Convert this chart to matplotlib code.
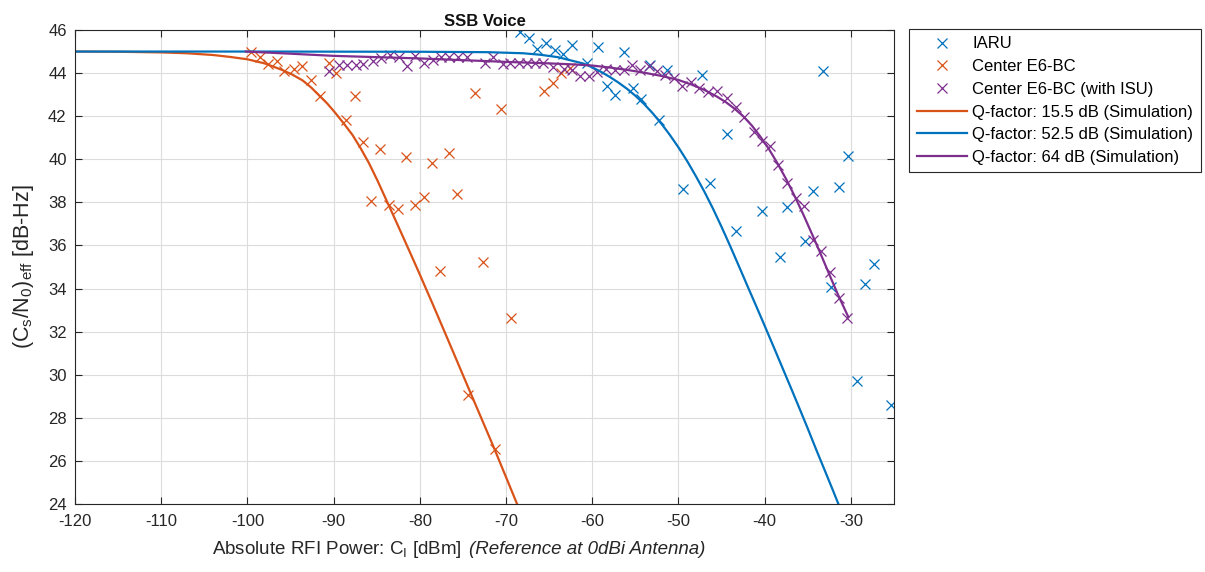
import matplotlib
matplotlib.use("Agg")
import matplotlib.pyplot as plt
from matplotlib.offsetbox import TextArea, HPacker, AnchoredOffsetbox

plt.rcParams['font.family'] = ['Liberation Sans', 'DejaVu Sans']
plt.rcParams['mathtext.fontset'] = 'custom'
plt.rcParams['mathtext.rm'] = 'Liberation Sans'
plt.rcParams['mathtext.it'] = 'Liberation Sans:italic'
plt.rcParams['mathtext.bf'] = 'Liberation Sans:bold'

# ---- measured data ----
iaru_x = [-68.4, -67.35, -66.4, -65.35, -64.3, -63.37, -62.36, -60.66, -59.36, -58.29,
          -57.38, -56.36, -55.33, -54.38, -53.3, -52.29, -51.31, -49.5, -47.3, -46.36,
          -44.34, -43.37, -40.35, -38.28, -37.36, -35.29, -34.34, -33.29, -32.33, -31.36,
          -30.31, -29.3, -28.33, -27.29, -25.35]
iaru_y = [45.89, 45.63, 45.13, 45.4, 45.05, 44.88, 45.3, 44.49, 45.19, 43.38,
          42.98, 44.97, 43.33, 42.79, 44.36, 41.84, 44.14, 38.62, 43.92, 38.91,
          41.16, 36.69, 37.62, 35.47, 37.8, 36.22, 38.54, 44.1, 34.09, 38.7,
          40.15, 29.71, 34.21, 35.14, 28.6]

e6_x = [-99.6, -98.5, -97.56, -96.6, -95.7, -94.65, -93.64, -92.64, -91.63, -90.55,
        -89.69, -88.6, -87.56, -86.59, -85.62, -84.57, -83.6, -82.52, -81.55, -80.58,
        -79.53, -78.57, -77.67, -76.59, -75.66, -74.43, -73.6, -72.64, -71.34, -70.58,
        -69.42, -65.58, -64.57, -63.64, -62.64]
e6_y = [44.97, 44.73, 44.42, 44.58, 44.11, 44.19, 44.34, 43.68, 42.94, 44.48,
        44.02, 41.82, 42.94, 40.82, 38.07, 40.48, 37.88, 37.69, 40.12, 37.88,
        38.26, 39.84, 34.83, 40.28, 38.38, 29.05, 43.06, 35.22, 26.54, 42.32,
        32.65, 43.18, 43.55, 43.99, 44.22]

isu_x = [-90.5, -89.4, -88.45, -87.45, -86.55, -85.47, -84.45, -83.49, -82.47, -81.47,
         -80.55, -79.5, -78.5, -77.55, -76.57, -75.6, -74.57, -72.48, -71.48, -70.4,
         -69.5, -68.53, -67.55, -66.6, -65.66, -64.6, -63.33, -62.36, -61.44, -60.43,
         -59.45, -58.43, -57.33, -56.36, -55.38, -54.42, -53.45, -52.48, -51.51, -50.55,
         -49.57, -48.56, -47.58, -46.57, -45.5, -44.38, -43.37, -42.4, -41.28, -40.35,
         -39.38, -38.41, -37.44, -36.4, -35.43, -34.45, -33.49, -32.4, -31.36, -30.47]
isu_y = [44.12, 44.36, 44.36, 44.36, 44.4, 44.58, 44.69, 44.84, 44.73, 44.34,
         44.81, 44.48, 44.6, 44.77, 44.77, 44.77, 44.77, 44.46, 44.77, 44.4,
         44.46, 44.46, 44.46, 44.46, 44.46, 44.3, 44.18, 44.14, 43.87, 43.87,
         44.07, 44.18, 44.14, 44.14, 44.36, 44.14, 44.32, 44.1, 43.9, 43.78,
         43.38, 43.58, 43.33, 43.1, 43.17, 42.85, 42.42, 41.96, 41.25, 40.86,
         40.62, 39.74, 38.89, 38.19, 37.83, 36.24, 35.75, 34.77, 33.55, 32.62]

# ---- simulation curves ----
q155_x = [-120, -115, -110, -107, -104, -102, -100, -98, -96, -94.8, -93.6, -92.6,
          -91.7, -90.7, -89.76, -88.8, -87.8, -86.85, -85.9, -84.9, -83.97, -83.0,
          -82.03, -81.0, -80.1, -78.5, -77.0, -74.4, -71.5, -68.72]
q155_y = [45.0, 44.99, 44.96, 44.92, 44.84, 44.75, 44.64, 44.45, 44.15, 43.93, 43.66, 43.33,
          42.97, 42.57, 42.13, 41.65, 41.12, 40.5, 39.82, 39.0, 38.18, 37.33,
          36.47, 35.55, 34.74, 33.27, 31.87, 29.42, 26.7, 24.0]

q525_x = [-120, -100, -80, -72, -68, -66, -64, -62, -61, -60, -59, -58, -57, -56,
          -55, -54, -53, -52, -51, -50, -49, -48, -47, -46, -45, -44, -43, -42,
          -41, -40, -39, -38, -37, -36, -35, -34, -33, -32, -31.45]
q525_y = [45.0, 45.0, 44.99, 44.97, 44.92, 44.85, 44.74, 44.54, 44.44, 44.27, 44.06, 43.83,
          43.57, 43.28, 42.95, 42.57, 42.14, 41.66, 41.13, 40.55, 39.92, 39.23, 38.5,
          37.71, 36.86, 35.97, 35.05, 34.12, 33.2, 32.27, 31.33, 30.38, 29.43, 28.47,
          27.5, 26.5, 25.53, 24.55, 24.0]

q64_x = [-100.2, -95, -90, -85, -80, -75, -70, -65, -62, -60, -58, -56, -54, -52,
         -50, -48.5, -47, -45.5, -44.5, -43.5, -42.5, -41.5, -40.5, -39.5, -38.5,
         -37.5, -36.5, -35.5, -34.5, -33.5, -32.5, -31.5, -30.3]
q64_y = [45.0, 44.9, 44.8, 44.74, 44.68, 44.6, 44.52, 44.45, 44.4, 44.35, 44.26, 44.15,
         44.02, 43.87, 43.68, 43.47, 43.22, 42.9, 42.65, 42.35, 42.0, 41.57, 41.05,
         40.47, 39.8, 39.07, 38.27, 37.42, 36.52, 35.6, 34.65, 33.72, 32.68]

xticks = list(range(-120, -29, 10))
yticks = list(range(24, 47, 2))

C_BLUE = '#0072BD'
C_ORANGE = '#D95319'
C_PURPLE = '#7E2F8E'
C_TXT = '#262626'

fig = plt.figure(figsize=(12.05, 5.72), dpi=100)
ax = fig.add_axes([75 / 1205, 1 - 504 / 572, (894 - 75) / 1205, (504 - 30) / 572])

mk = dict(linestyle='none', marker='x', markersize=7, markeredgewidth=0.9)
ax.plot(iaru_x, iaru_y, color=C_BLUE, label='IARU', **mk)
ax.plot(e6_x, e6_y, color=C_ORANGE, label='Center E6-BC', **mk)
ax.plot(isu_x, isu_y, color=C_PURPLE, label='Center E6-BC (with ISU)', **mk)
ax.plot(q155_x, q155_y, color=C_ORANGE, lw=1.6, label='Q-factor: 15.5 dB (Simulation)')
ax.plot(q525_x, q525_y, color=C_BLUE, lw=1.6, label='Q-factor: 52.5 dB (Simulation)')
ax.plot(q64_x, q64_y, color=C_PURPLE, lw=1.6, label='Q-factor: 64 dB (Simulation)')

ax.set_xlim(-120, -25)
ax.set_ylim(24, 46)
ax.set_xticks(xticks)
ax.set_yticks(yticks)
ax.set_xticklabels([str(t) for t in xticks])
ax.grid(True, color='#dcdcdc', linewidth=0.8)
ax.set_axisbelow(True)
ax.tick_params(direction='in', top=True, right=True, length=5, width=0.8,
               labelsize=12, colors=C_TXT)
ax.tick_params(axis='x', pad=7)
ax.tick_params(axis='y', pad=6)
for s in ax.spines.values():
    s.set_color(C_TXT)
    s.set_linewidth(0.8)

ax.set_title('SSB Voice', fontsize=12, fontweight='bold', pad=3, color='#111111')

# x label: regular part + italic part
t1 = TextArea(r'Absolute RFI Power: $\mathregular{C_I}$ [dBm]',
              textprops=dict(fontsize=13.5, color=C_TXT))
t2 = TextArea('(Reference at 0dBi Antenna)',
              textprops=dict(fontsize=13.5, color=C_TXT, style='italic'))
xl_box = HPacker(children=[t1, t2], align='baseline', pad=0, sep=5)
xl = AnchoredOffsetbox(loc='center', child=xl_box, pad=0, borderpad=0, frameon=False,
                       bbox_to_anchor=((459 - 75) / 819, (504 - 549) / 474),
                       bbox_transform=ax.transAxes)
ax.add_artist(xl)

ax.set_ylabel(r'$\mathregular{(C_s/N_0)_{eff}}$ [dB-Hz]', fontsize=15.5, color=C_TXT)
ax.yaxis.set_label_coords((36 - 75) / 819, 0.5)

leg = ax.legend(loc='upper left', bbox_to_anchor=((909 - 75) / 819, (504 - 29) / 474),
                fontsize=12, frameon=True, fancybox=False, edgecolor=C_TXT, framealpha=1,
                handlelength=3.0, handletextpad=0.35, borderpad=0.45, labelspacing=0.46,
                borderaxespad=0)
leg.get_frame().set_linewidth(0.8)

fig.savefig('out.png', dpi=100)
